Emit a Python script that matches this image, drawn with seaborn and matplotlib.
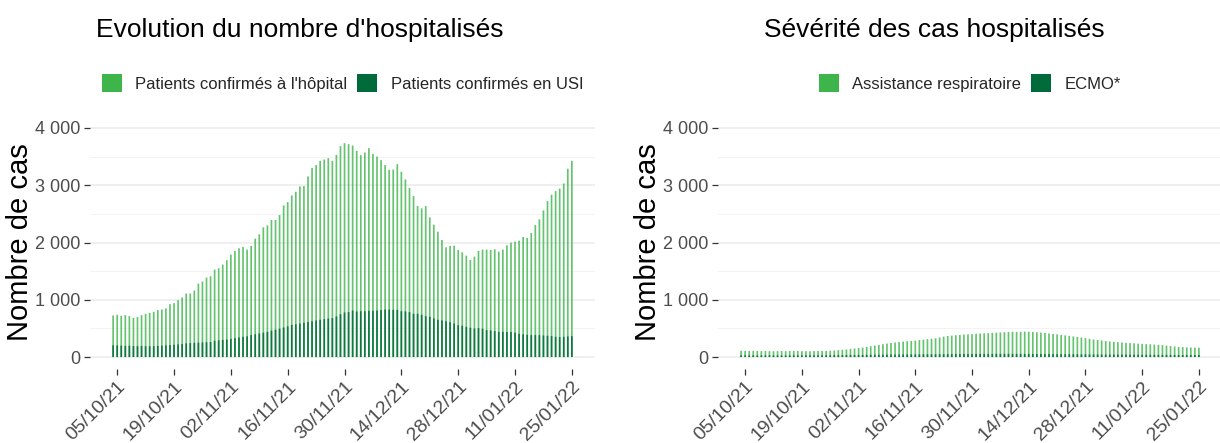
import numpy as np
import pandas as pd
import matplotlib
matplotlib.use("Agg")
import matplotlib.pyplot as plt
import seaborn as sns
from matplotlib.patches import Patch
from matplotlib.ticker import FuncFormatter, MultipleLocator

# ---------------- data ----------------
start_date = "2021-10-04"
tick_labels = ["05/10/21", "19/10/21", "02/11/21", "16/11/21", "30/11/21",
               "14/12/21", "28/12/21", "11/01/22", "25/01/22"]

hosp = [726, 737, 720, 732, 714, 685, 697, 732, 755, 772,
        790, 819, 830, 848, 923, 941, 993, 1040, 1109, 1109,
        1161, 1283, 1318, 1388, 1411, 1527, 1550, 1614, 1690, 1789,
        1852, 1899, 1922, 1876, 1940, 2067, 2143, 2265, 2299, 2393,
        2393, 2480, 2648, 2706, 2822, 2886, 2979, 2985, 3153, 3304,
        3351, 3426, 3449, 3473,
        3426, 3531, 3682, 3734, 3717, 3693, 3600, 3525, 3571, 3647,
        3548, 3502, 3438, 3351, 3269, 3275, 3368, 3235, 3101, 2950,
        2811, 2636, 2596, 2636, 2439, 2311, 2189, 2044, 1916, 1940,
        1945, 1870, 1829, 1771, 1696, 1754, 1853, 1876, 1876, 1870,
        1882, 1841, 1876, 1951, 1998, 2015, 2033, 2096, 2079, 2166,
        2305, 2404, 2561, 2724, 2834, 2898, 2940, 3031, 3287, 3426]

usi = [205, 203, 200, 195, 198, 192, 190, 193, 190, 188,
       190, 195, 198, 205, 210, 215, 220, 228, 238, 245,
       248, 252, 255, 258, 262, 285, 292, 298, 305, 318,
       330, 342, 352, 362, 385, 398, 412, 425, 440, 462,
       478, 495, 515, 535, 560, 572, 585, 598, 612, 625,
       640, 652, 662, 672,
       679, 708, 749, 778, 784, 813, 796, 801, 801, 807,
       807, 813, 819, 830, 830, 825, 825, 801, 796, 784,
       755, 755, 737, 714, 703, 674, 650, 639, 627, 610,
       587, 557, 546, 528, 511, 499, 505, 494, 470, 465,
       453, 441, 441, 436, 436, 425, 406, 395, 389, 383,
       383, 383, 377, 372, 366, 354, 348, 354, 360, 365]

resp = [110, 108, 107, 109, 106, 104, 106, 103, 102, 104,
        105, 103, 104, 107, 106, 104, 103, 102, 105, 106,
        108, 106, 110, 114, 120, 126,
        134, 142, 150, 158, 166, 176,
        188, 200, 212, 224, 236, 246,
        254, 262, 270, 276, 282, 288,
        296, 304, 312, 320, 328,
        342, 356, 368, 374,
        380, 386, 392, 396,
        400, 406, 410, 415, 418, 422, 426,
        430, 434, 438, 441, 438, 442, 444, 441, 437, 432,
        426, 420, 412, 404,
        396, 386, 378, 370,
        360, 350, 340, 330,
        318, 306, 298, 290,
        280, 272, 266, 260,
        254, 248, 244, 240,
        234, 230, 226, 222,
        218, 212, 208, 200,
        192, 184, 176, 174,
        170, 166, 164, 163]

ecmo = [30, 31, 29, 30, 28, 29, 30, 31, 30, 29, 28, 29, 30, 31, 30,
        32, 31, 30, 31, 32, 33, 32, 33, 34, 35, 34, 35, 36, 36, 37,
        38, 38, 39, 40, 41, 41, 42, 43, 43, 44, 45, 45, 46, 46, 47,
        48, 48, 49, 49, 50, 50, 51, 51, 52, 52, 53, 52, 53, 54, 54,
        55, 54, 55, 56, 55, 56, 56, 55, 56, 55, 54, 55, 54, 53, 53,
        52, 52, 51, 50, 50, 49, 49, 48, 48, 47, 47, 46, 46, 45, 45,
        44, 44, 43, 43, 42, 42, 41, 41, 40, 40, 40, 39, 39, 38, 38,
        38, 37, 37, 36, 36, 36, 35, 35, 35]

# ---------------- frame ----------------
n = len(hosp)
dates = pd.date_range(start_date, periods=n, freq="D")
df = pd.DataFrame({"jour": np.arange(n), "date": dates,
                   "hosp": hosp, "usi": usi, "resp": resp, "ecmo": ecmo})

LIGHT = "#3DB54A"
DARK = "#006B3A"

sns.set_theme(style="white")
plt.rcParams["font.family"] = ["Liberation Sans", "DejaVu Sans"]

W, H = 1220, 443
fig = plt.figure(figsize=(W / 100, H / 100), dpi=100)
ax1 = fig.add_axes([90 / W, 74.5 / H, 505 / W, 252 / H])
ax2 = fig.add_axes([718 / W, 74.5 / H, 504 / W, 252 / H])

tick_dates = pd.to_datetime(tick_labels, format="%d/%m/%y")
tick_pos = df.set_index("date").loc[tick_dates, "jour"].to_numpy()

fmt = FuncFormatter(lambda v, p: f"{int(round(v)):,}".replace(",", " "))


def panel(ax, col_light, col_dark, lab_light, lab_dark):
    sns.barplot(data=df, x="jour", y=col_light, native_scale=True, color=LIGHT,
                saturation=1, width=0.42, errorbar=None, linewidth=0,
                edgecolor="none", alpha=0.8, ax=ax)
    sns.barplot(data=df, x="jour", y=col_dark, native_scale=True, color=DARK,
                saturation=1, width=0.42, errorbar=None, linewidth=0,
                edgecolor="none", alpha=0.85, ax=ax)
    for p in ax.patches:
        p.set_snap(False)
    ax.set_xlim(-5.7, n - 1 + 5.7)
    ax.set_ylim(-200, 4200)
    ax.yaxis.set_major_locator(MultipleLocator(1000))
    ax.yaxis.set_minor_locator(MultipleLocator(500))
    ax.yaxis.set_major_formatter(fmt)
    ax.set_xticks(tick_pos)
    ax.set_xticklabels(tick_labels, rotation=45, ha="right", rotation_mode="anchor")
    ax.tick_params(axis="both", which="major", length=4, width=0.9, color="#333333",
                   labelcolor="#4D4D4D", labelsize=13, pad=3, bottom=True, left=True)
    ax.tick_params(axis="x", which="major", labelsize=14)
    ax.tick_params(axis="y", which="minor", length=0)
    ax.grid(axis="y", which="major", color="#EBEBEB", lw=1.1)
    ax.grid(axis="y", which="minor", color="#F3F3F3", lw=0.7)
    ax.grid(axis="x", visible=False)
    ax.set_axisbelow(True)
    for s in ax.spines.values():
        s.set_visible(False)
    ax.set_xlabel("")
    ax.set_ylabel("Nombre de cas", fontsize=21, color="black", labelpad=0.5)
    handles = [Patch(facecolor=LIGHT, edgecolor="none", label=lab_light),
               Patch(facecolor=DARK, edgecolor="none", label=lab_dark)]
    ax.legend(handles=handles, loc="center", bbox_to_anchor=(0.5, 1 + 33.5 / 252),
              ncol=2, frameon=False, fontsize=12, handlelength=1.2, handleheight=1.2,
              handletextpad=0.8, columnspacing=0.6)


panel(ax1, "hosp", "usi", "Patients confirmés à l'hôpital", "Patients confirmés en USI")
panel(ax2, "resp", "ecmo", "Assistance respiratoire", "ECMO*")

fig.text(300 / W, 1 - 37 / H, "Evolution du nombre d'hospitalisés", ha="center",
         va="baseline", fontsize=19, color="black")
fig.text(934 / W, 1 - 37 / H, "Sévérité des cas hospitalisés", ha="center",
         va="baseline", fontsize=19, color="black")

fig.savefig("out.png", dpi=100, facecolor="white")
